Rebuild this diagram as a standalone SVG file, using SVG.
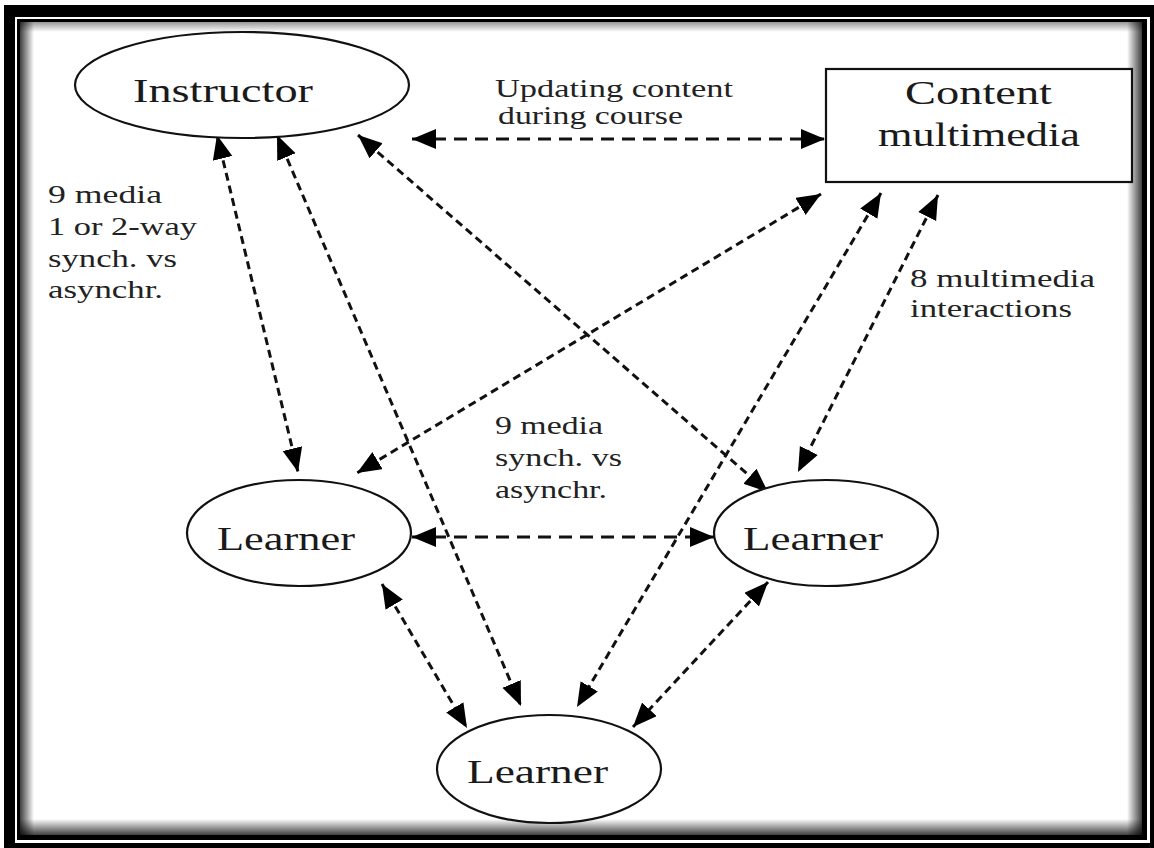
<svg xmlns="http://www.w3.org/2000/svg" width="1154" height="848" viewBox="0 0 1154 848">
<style>
.node{fill:#fff;stroke:#111;stroke-width:2.2}
.nt{font-family:"Liberation Serif","Times New Roman",serif;font-size:33px;fill:#1a1a1a}
.lt{font-family:"Liberation Serif","Times New Roman",serif;font-size:26px;fill:#222}
.c{fill:none;stroke:#111;stroke-width:3;stroke-dasharray:8 5;marker-start:url(#ah);marker-end:url(#ah)}
.h{stroke-dasharray:13 8}
</style>
<defs>
<marker id="ah" markerUnits="userSpaceOnUse" markerWidth="26" markerHeight="22" refX="24" refY="10" orient="auto-start-reverse" viewBox="0 0 26 22">
<path d="M0,0 L24,10 L0,20 Z" fill="#000"/>
</marker>
<linearGradient id="gl" x1="0" y1="0" x2="1" y2="0"><stop offset="0" stop-color="#000" stop-opacity="0.75"/><stop offset="1" stop-color="#000" stop-opacity="0"/></linearGradient>
<linearGradient id="gr" x1="1" y1="0" x2="0" y2="0"><stop offset="0" stop-color="#000" stop-opacity="0.75"/><stop offset="1" stop-color="#000" stop-opacity="0"/></linearGradient>
<linearGradient id="gt" x1="0" y1="0" x2="0" y2="1"><stop offset="0" stop-color="#000" stop-opacity="0.4"/><stop offset="1" stop-color="#000" stop-opacity="0"/></linearGradient>
<linearGradient id="gb" x1="0" y1="1" x2="0" y2="0"><stop offset="0" stop-color="#000" stop-opacity="0.75"/><stop offset="1" stop-color="#000" stop-opacity="0"/></linearGradient>
</defs>
<rect width="1154" height="848" fill="#fff"/>
<g id="frame">
<rect x="20" y="22" width="14" height="813" fill="url(#gl)"/>
<rect x="1127" y="22" width="15" height="813" fill="url(#gr)"/>
<rect x="20" y="22" width="1122" height="10" fill="url(#gt)"/>
<rect x="20" y="819" width="1122" height="16" fill="url(#gb)"/>
<path fill="#000" fill-rule="evenodd" d="M4,5 H1154 V848 H4 Z M15,17 V843 H1150 V17 Z"/>
<path fill="#000" fill-rule="evenodd" d="M17,19 H1147 V840 H17 Z M20,22 V835 H1142 V22 Z"/>
</g>
<g id="connectors">
<line class="c h" x1="412" y1="139" x2="825" y2="139"/>
<line class="c" x1="217" y1="135" x2="298" y2="472"/>
<line class="c" x1="277" y1="135" x2="521" y2="706"/>
<line class="c" x1="358" y1="135" x2="768" y2="492"/>
<line class="c" x1="821" y1="194" x2="357" y2="473"/>
<line class="c" x1="881" y1="193" x2="577" y2="707"/>
<line class="c" x1="938" y1="195" x2="798" y2="472"/>
<line class="c h" x1="412" y1="537" x2="714" y2="537"/>
<line class="c" x1="382" y1="584" x2="467" y2="728"/>
<line class="c" x1="768" y1="582" x2="633" y2="727"/>
</g>
<g id="instructor">
<ellipse class="node" cx="242" cy="85" rx="167" ry="53"/>
<text class="nt" x="133" y="102" textLength="180" lengthAdjust="spacingAndGlyphs">Instructor</text>
</g>
<g id="content">
<rect class="node" x="826" y="69" width="306" height="113"/>
<text class="nt" x="905" y="104" textLength="147" lengthAdjust="spacingAndGlyphs">Content</text>
<text class="nt" x="878" y="146" textLength="202" lengthAdjust="spacingAndGlyphs">multimedia</text>
</g>
<g id="learner-left">
<ellipse class="node" cx="299" cy="533" rx="112" ry="53"/>
<text class="nt" x="217" y="550" textLength="138" lengthAdjust="spacingAndGlyphs">Learner</text>
</g>
<g id="learner-right">
<ellipse class="node" cx="826" cy="533" rx="112" ry="53"/>
<text class="nt" x="743" y="550" textLength="140" lengthAdjust="spacingAndGlyphs">Learner</text>
</g>
<g id="learner-bottom">
<ellipse class="node" cx="549" cy="769" rx="112" ry="54"/>
<text class="nt" x="467" y="783" textLength="141" lengthAdjust="spacingAndGlyphs">Learner</text>
</g>
<g id="labels">
<text class="lt" x="495" y="97" textLength="238" lengthAdjust="spacingAndGlyphs">Updating content</text>
<text class="lt" x="498" y="124" textLength="185" lengthAdjust="spacingAndGlyphs">during course</text>
<text class="lt" x="48" y="203" textLength="114" lengthAdjust="spacingAndGlyphs">9 media</text>
<text class="lt" x="48" y="235" textLength="149" lengthAdjust="spacingAndGlyphs">1 or 2-way</text>
<text class="lt" x="48" y="267" textLength="129" lengthAdjust="spacingAndGlyphs">synch. vs</text>
<text class="lt" x="48" y="298" textLength="115" lengthAdjust="spacingAndGlyphs">asynchr.</text>
<text class="lt" x="495" y="434" textLength="108" lengthAdjust="spacingAndGlyphs">9 media</text>
<text class="lt" x="495" y="466" textLength="127" lengthAdjust="spacingAndGlyphs">synch. vs</text>
<text class="lt" x="495" y="498" textLength="112" lengthAdjust="spacingAndGlyphs">asynchr.</text>
<text class="lt" x="910" y="287" textLength="185" lengthAdjust="spacingAndGlyphs">8 multimedia</text>
<text class="lt" x="910" y="317" textLength="162" lengthAdjust="spacingAndGlyphs">interactions</text>
</g>
</svg>
